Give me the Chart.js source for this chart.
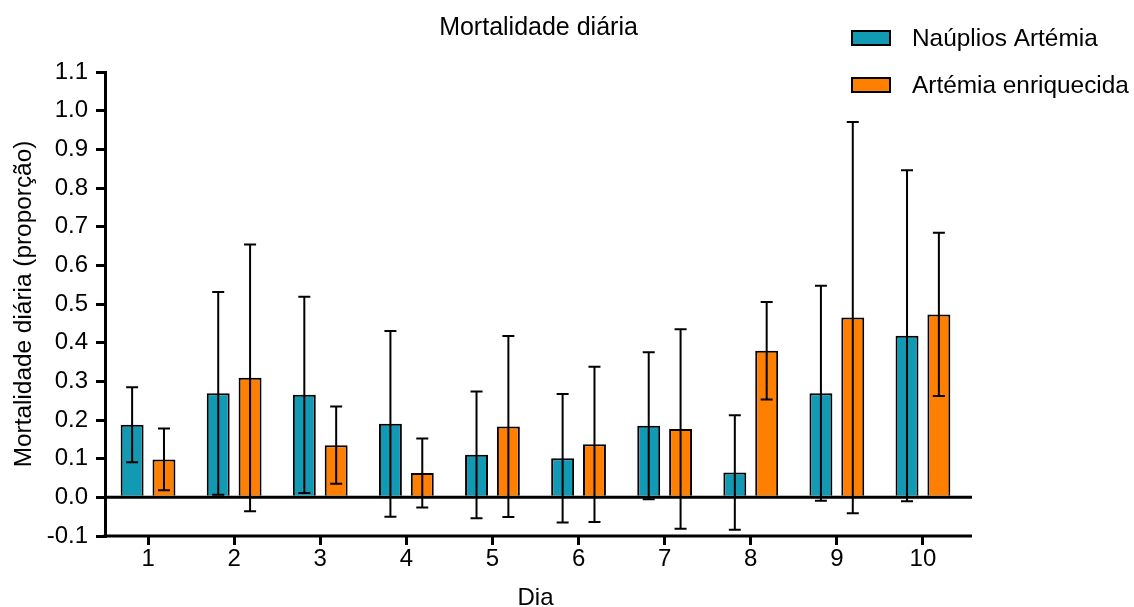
<!DOCTYPE html>
<html>
<head>
<meta charset="utf-8">
<title>Mortalidade diária</title>
<script src="https://cdn.jsdelivr.net/npm/chart.js@4.4.0/dist/chart.umd.min.js"></script>
<style>
  html, body { margin: 0; padding: 0; background: #fff; }
  #wrap { width: 1134px; height: 607px; }
</style>
</head>
<body>
<div id="wrap"><canvas id="chart" width="1134" height="607"></canvas></div>
<script>
// dados (média ± DP)
const days = ['1', '2', '3', '4', '5', '6', '7', '8', '9', '10'];
const naupliosMean = [0.188, 0.269, 0.265, 0.190, 0.110, 0.101, 0.185, 0.064, 0.269, 0.418];
const naupliosSd = [0.097, 0.262, 0.254, 0.240, 0.164, 0.166, 0.190, 0.148, 0.278, 0.428];
const enrichedMean = [0.098, 0.309, 0.135, 0.063, 0.183, 0.137, 0.177, 0.379, 0.465, 0.473];
const enrichedSd = [0.080, 0.345, 0.100, 0.089, 0.234, 0.201, 0.258, 0.126, 0.506, 0.211];
const yTicks = [-0.1, 0, 0.1, 0.2, 0.3, 0.4, 0.5, 0.6, 0.7, 0.8, 0.9, 1.0, 1.1];

const FONT = '"Liberation Sans", Arial, sans-serif';
const TEAL = '#1299b4';
const ORANGE = '#ff8000';

// barras de erro, linha do zero, eixo x, título e legenda
const extras = {
  id: 'extras',
  afterDatasetsDraw(chart) {
    const { ctx, chartArea } = chart;
    const y = chart.scales.y;
    ctx.save();
    ctx.strokeStyle = '#000';
    ctx.lineWidth = 2;
    chart.data.datasets.forEach((ds, di) => {
      chart.getDatasetMeta(di).data.forEach((bar, i) => {
        const hi = y.getPixelForValue(ds.data[i] + ds.sd[i]);
        const lo = y.getPixelForValue(ds.data[i] - ds.sd[i]);
        ctx.beginPath();
        ctx.moveTo(bar.x, hi); ctx.lineTo(bar.x, lo);
        ctx.moveTo(bar.x - 6, hi); ctx.lineTo(bar.x + 6, hi);
        ctx.moveTo(bar.x - 6, lo); ctx.lineTo(bar.x + 6, lo);
        ctx.stroke();
      });
    });
    // linha do zero e eixo x (passam um pouco do fim da área)
    ctx.lineWidth = 3;
    const y0 = y.getPixelForValue(0);
    ctx.beginPath();
    ctx.moveTo(chartArea.left, y0); ctx.lineTo(chartArea.right + 6, y0);
    ctx.moveTo(chartArea.left - 1.5, chartArea.bottom); ctx.lineTo(chartArea.right + 6, chartArea.bottom);
    ctx.stroke();
    ctx.restore();
  },
  afterDraw(chart) {
    const { ctx, chartArea } = chart;
    ctx.save();
    ctx.fillStyle = '#000';
    ctx.textBaseline = 'middle';
    ctx.textAlign = 'center';
    ctx.font = '25px ' + FONT;
    ctx.fillText('Mortalidade diária', (chartArea.left + chartArea.right) / 2 + 3, 28);
    ctx.font = '24.4px ' + FONT;
    ctx.textAlign = 'left';
    chart.data.datasets.forEach((ds, i) => {
      const cy = 38 + i * 47;
      ctx.fillStyle = ds.backgroundColor;
      ctx.fillRect(852, cy - 7, 38, 14);
      ctx.strokeStyle = '#000';
      ctx.lineWidth = 2;
      ctx.strokeRect(852, cy - 7, 38, 14);
      ctx.fillStyle = '#000';
      ctx.fillText(ds.label, 912, cy + 1);
    });
    ctx.restore();
  },
};

new Chart(document.getElementById('chart'), {
  type: 'bar',
  data: {
    labels: days,
    datasets: [
      { label: 'Naúplios Artémia', data: naupliosMean, sd: naupliosSd, backgroundColor: TEAL, borderColor: '#000', borderWidth: 2 },
      { label: 'Artémia enriquecida', data: enrichedMean, sd: enrichedSd, backgroundColor: ORANGE, borderColor: '#000', borderWidth: 2 },
    ],
  },
  options: {
    responsive: false,
    animation: false,
    devicePixelRatio: 1,
    categoryPercentage: 0.74,
    barPercentage: 0.72,
    layout: { padding: { left: 0, top: 72, right: 168, bottom: 0 } },
    plugins: { legend: { display: false }, title: { display: false }, tooltip: { enabled: false } },
    scales: {
      x: {
        grid: { display: true, drawOnChartArea: false, offset: false, tickLength: 9, color: '#000', lineWidth: 3 },
        border: { display: false },
        ticks: { color: '#000', font: { family: FONT, size: 24 }, padding: 0, maxRotation: 0 },
        title: { display: true, text: 'Dia', color: '#000', font: { family: FONT, size: 24, lineHeight: 1 }, padding: { top: 0, bottom: -3 } },
        afterFit(scale) { scale.height = 71; },
      },
      y: {
        min: -0.1,
        max: 1.1,
        afterBuildTicks(scale) { scale.ticks = yTicks.map((v) => ({ value: v })); },
        grid: { display: true, drawOnChartArea: false, tickLength: 9, color: '#000', lineWidth: 3 },
        border: { display: true, color: '#000', width: 3 },
        ticks: { color: '#000', font: { family: FONT, size: 24 }, padding: 8, callback: (v) => Number(v).toFixed(1) },
        title: { display: true, text: 'Mortalidade diária (proporção)', color: '#000', font: { family: FONT, size: 24.4, lineHeight: 1 }, padding: { top: 12, bottom: 0 } },
        afterFit(scale) { scale.width = 105; },
      },
    },
  },
  plugins: [extras],
});
</script>
</body>
</html>
